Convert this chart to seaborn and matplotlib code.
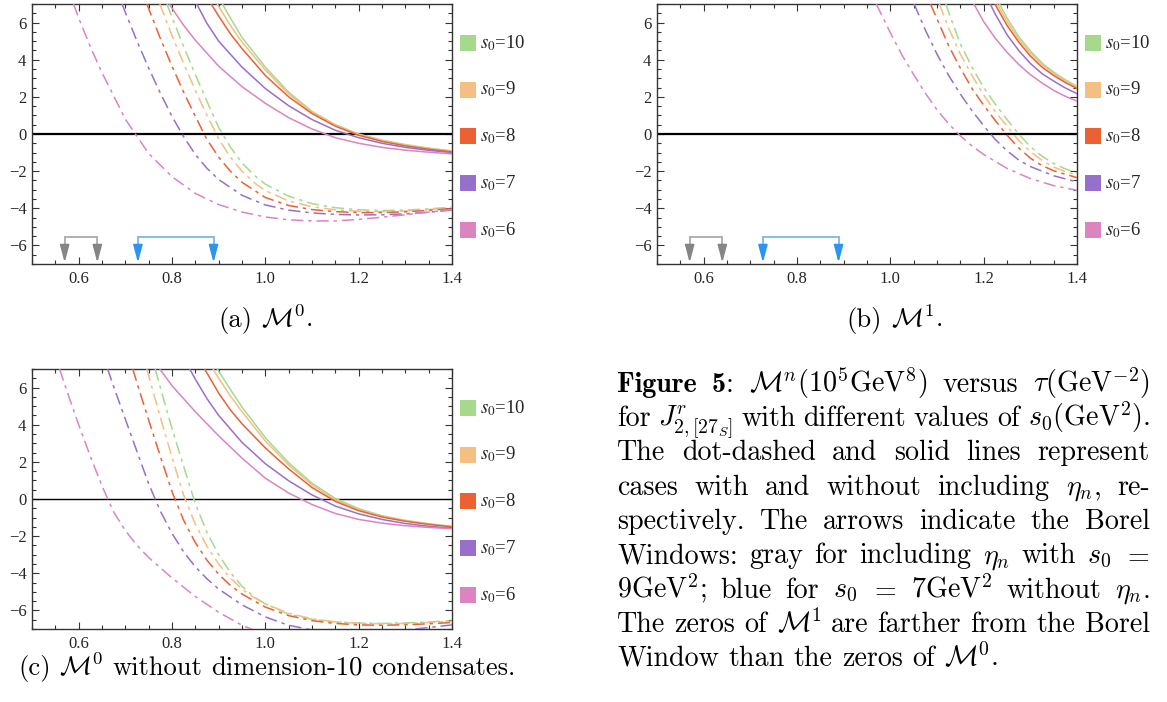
import matplotlib
matplotlib.use("Agg")
import matplotlib.pyplot as plt
import seaborn as sns
from matplotlib.patches import Rectangle
from matplotlib.ticker import MultipleLocator

# ------------------------------------------------------------------ data
S0_LEVELS = [10, 9, 8, 7, 6]
S0_LABELS = [r"$s_0$=10", r"$s_0$=9", r"$s_0$=8", r"$s_0$=7", r"$s_0$=6"]
S0_COLORS = ["#a6d98c", "#f3bf83", "#eb6134", "#9670cb", "#dc84c0"]

XTICKS = [0.6, 0.8, 1.0, 1.2, 1.4]
XTICK_LABELS = ["0.6", "0.8", "1.0", "1.2", "1.4"]
YTICKS = [-6, -4, -2, 0, 2, 4, 6]
YTICK_LABELS = ["\u22126", "\u22124", "\u22122", "0", "2", "4", "6"]

# Borel windows (tau, GeV^-2)
GRAY_WINDOW = [0.570, 0.640]
BLUE_WINDOW = [0.727, 0.889]

# ---- (a) M^0, solid (without eta_n)
a_sol_t_10 = [0.908, 0.925, 0.95, 1.0, 1.05, 1.1, 1.15, 1.2, 1.25, 1.3, 1.35, 1.4]
a_sol_m_10 = [7.0, 6.25, 5.2, 3.6, 2.25, 1.22, 0.5, 0.0, -0.33, -0.57, -0.76, -0.91]
a_sol_t_9 = [0.897, 0.925, 0.95, 1.0, 1.05, 1.1, 1.15, 1.2, 1.25, 1.3, 1.35, 1.4]
a_sol_m_9 = [7.0, 5.85, 4.95, 3.45, 2.15, 1.18, 0.47, -0.03, -0.36, -0.6, -0.78, -0.93]
a_sol_t_8 = [0.884, 0.9, 0.925, 0.95, 1.0, 1.05, 1.1, 1.15, 1.2, 1.25, 1.3, 1.35, 1.4]
a_sol_m_8 = [7.0, 6.35, 5.4, 4.6, 3.15, 2.0, 1.1, 0.42, -0.07, -0.4, -0.64, -0.82, -0.96]
a_sol_t_7 = [0.853, 0.875, 0.9, 0.95, 1.0, 1.05, 1.1, 1.15, 1.2, 1.25, 1.3, 1.35, 1.4]
a_sol_m_7 = [7.0, 5.95, 5.0, 3.6, 2.45, 1.52, 0.78, 0.2, -0.2, -0.5, -0.72, -0.88, -1.0]
a_sol_t_6 = [0.794, 0.825, 0.85, 0.9, 0.95, 1.0, 1.05, 1.1, 1.15, 1.2, 1.25, 1.3, 1.35, 1.4]
a_sol_m_6 = [7.0, 5.85, 5.05, 3.65, 2.55, 1.65, 0.88, 0.27, -0.2, -0.5, -0.72, -0.87, -0.98, -1.07]

# ---- (a) M^0, dot-dashed (with eta_n)
a_dd_t_10 = [0.789, 0.8, 0.825, 0.85, 0.875, 0.9, 0.925, 0.95, 0.975, 1.0, 1.05, 1.1, 1.15, 1.2, 1.25, 1.3, 1.35, 1.4]
a_dd_m_10 = [7.0, 6.3, 4.7, 3.2, 1.75, 0.35, -0.7, -1.55, -2.2, -2.7, -3.35, -3.75, -3.97, -4.08, -4.12, -4.1, -4.03, -3.94]
a_dd_t_9 = [0.774, 0.8, 0.825, 0.85, 0.875, 0.9, 0.925, 0.95, 0.975, 1.0, 1.05, 1.1, 1.15, 1.2, 1.25, 1.3, 1.35, 1.4]
a_dd_m_9 = [7.0, 5.3, 3.8, 2.35, 1.0, -0.25, -1.25, -2.0, -2.6, -3.05, -3.6, -3.92, -4.08, -4.16, -4.18, -4.15, -4.07, -3.97]
a_dd_t_8 = [0.746, 0.75, 0.775, 0.8, 0.825, 0.85, 0.875, 0.9, 0.925, 0.95, 1.0, 1.05, 1.1, 1.15, 1.2, 1.25, 1.3, 1.35, 1.4]
a_dd_m_8 = [7.0, 6.75, 5.15, 3.65, 2.25, 0.95, -0.3, -1.25, -2.0, -2.6, -3.42, -3.85, -4.07, -4.18, -4.23, -4.23, -4.19, -4.11, -4.02]
a_dd_t_7 = [0.693, 0.7, 0.725, 0.75, 0.775, 0.8, 0.825, 0.85, 0.875, 0.9, 0.95, 1.0, 1.05, 1.1, 1.15, 1.2, 1.25, 1.3, 1.35, 1.4]
a_dd_m_7 = [7.0, 6.55, 5.0, 3.55, 2.2, 0.95, -0.15, -1.1, -1.85, -2.45, -3.3, -3.82, -4.1, -4.25, -4.33, -4.36, -4.35, -4.3, -4.21, -4.1]
a_dd_t_6 = [0.589, 0.6, 0.625, 0.65, 0.675, 0.7, 0.75, 0.8, 0.85, 0.9, 0.95, 1.0, 1.05, 1.1, 1.15, 1.2, 1.25, 1.3, 1.35, 1.4]
a_dd_m_6 = [7.0, 6.25, 4.7, 3.3, 2.05, 0.8, -1.05, -2.3, -3.2, -3.8, -4.2, -4.47, -4.62, -4.68, -4.68, -4.6, -4.48, -4.35, -4.21, -4.07]

# ---- (b) M^1, solid
b_sol_t_10 = [1.234, 1.25, 1.275, 1.3, 1.325, 1.35, 1.375, 1.4]
b_sol_m_10 = [7.0, 6.25, 5.25, 4.47, 3.82, 3.33, 2.92, 2.56]
b_sol_t_9 = [1.229, 1.25, 1.275, 1.3, 1.325, 1.35, 1.375, 1.4]
b_sol_m_9 = [7.0, 6.05, 5.1, 4.35, 3.72, 3.25, 2.85, 2.5]
b_sol_t_8 = [1.224, 1.25, 1.275, 1.3, 1.325, 1.35, 1.375, 1.4]
b_sol_m_8 = [7.0, 5.85, 4.95, 4.2, 3.6, 3.15, 2.77, 2.45]
b_sol_t_7 = [1.214, 1.225, 1.25, 1.275, 1.3, 1.325, 1.35, 1.375, 1.4]
b_sol_m_7 = [7.0, 6.45, 5.35, 4.5, 3.8, 3.25, 2.85, 2.48, 2.17]
b_sol_t_6 = [1.179, 1.2, 1.225, 1.25, 1.275, 1.3, 1.325, 1.35, 1.375, 1.4]
b_sol_m_6 = [7.0, 6.05, 5.15, 4.4, 3.75, 3.2, 2.75, 2.35, 2.03, 1.77]

# ---- (b) M^1, dot-dashed
b_dd_t_10 = [1.119, 1.125, 1.15, 1.175, 1.2, 1.225, 1.25, 1.275, 1.3, 1.325, 1.35, 1.375, 1.4]
b_dd_m_10 = [7.0, 6.55, 4.85, 3.6, 2.5, 1.6, 0.78, 0.0, -0.68, -1.2, -1.58, -1.88, -2.1]
b_dd_t_9 = [1.105, 1.125, 1.15, 1.175, 1.2, 1.225, 1.25, 1.275, 1.3, 1.325, 1.35, 1.375, 1.4]
b_dd_m_9 = [7.0, 5.7, 4.3, 3.15, 2.1, 1.2, 0.42, -0.35, -0.95, -1.42, -1.78, -2.03, -2.22]
b_dd_t_8 = [1.086, 1.1, 1.125, 1.15, 1.175, 1.2, 1.225, 1.25, 1.275, 1.3, 1.325, 1.35, 1.4]
b_dd_m_8 = [7.0, 6.2, 4.75, 3.55, 2.45, 1.55, 0.72, -0.06, -0.75, -1.3, -1.7, -1.98, -2.35]
b_dd_t_7 = [1.051, 1.075, 1.1, 1.125, 1.15, 1.175, 1.2, 1.225, 1.25, 1.275, 1.3, 1.35, 1.4]
b_dd_m_7 = [7.0, 5.6, 4.3, 3.15, 2.15, 1.25, 0.45, -0.3, -0.9, -1.4, -1.75, -2.25, -2.58]
b_dd_t_6 = [0.97, 1.0, 1.025, 1.05, 1.075, 1.1, 1.125, 1.15, 1.175, 1.2, 1.25, 1.3, 1.35, 1.4]
b_dd_m_6 = [7.0, 5.45, 4.25, 3.2, 2.2, 1.3, 0.55, -0.1, -0.65, -1.1, -1.85, -2.4, -2.78, -3.03]

# ---- (c) M^0 without dimension-10 condensates, solid
c_sol_t_10 = [0.897, 0.925, 0.95, 1.0, 1.05, 1.1, 1.15, 1.2, 1.25, 1.3, 1.35, 1.4]
c_sol_m_10 = [7.0, 5.9, 4.95, 3.3, 1.95, 0.85, 0.03, -0.52, -0.9, -1.15, -1.33, -1.47]
c_sol_t_9 = [0.888, 0.9, 0.925, 0.95, 1.0, 1.05, 1.1, 1.15, 1.2, 1.25, 1.3, 1.35, 1.4]
c_sol_m_9 = [7.0, 6.5, 5.55, 4.7, 3.12, 1.83, 0.76, -0.05, -0.58, -0.93, -1.17, -1.35, -1.49]
c_sol_t_8 = [0.87, 0.9, 0.925, 0.95, 1.0, 1.05, 1.1, 1.15, 1.2, 1.25, 1.3, 1.35, 1.4]
c_sol_m_8 = [7.0, 5.7, 4.8, 4.05, 2.75, 1.62, 0.62, -0.13, -0.63, -0.97, -1.2, -1.37, -1.5]
c_sol_t_7 = [0.838, 0.85, 0.875, 0.9, 0.95, 1.0, 1.05, 1.1, 1.15, 1.2, 1.25, 1.3, 1.35, 1.4]
c_sol_m_7 = [7.0, 6.45, 5.4, 4.5, 3.05, 1.9, 0.98, 0.22, -0.38, -0.8, -1.1, -1.32, -1.47, -1.57]
c_sol_t_6 = [0.774, 0.8, 0.85, 0.9, 0.95, 1.0, 1.05, 1.1, 1.15, 1.2, 1.25, 1.3, 1.35, 1.4]
c_sol_m_6 = [7.0, 6.1, 4.7, 3.4, 2.2, 1.12, 0.32, -0.3, -0.78, -1.1, -1.3, -1.44, -1.53, -1.6]

# ---- (c) dot-dashed
c_dd_t_10 = [0.764, 0.775, 0.8, 0.825, 0.85, 0.875, 0.9, 0.925, 0.95, 0.975, 1.0, 1.05, 1.1, 1.15, 1.2, 1.25, 1.3, 1.35, 1.4]
c_dd_m_10 = [7.0, 6.0, 3.8, 1.75, -0.25, -1.8, -3.0, -3.95, -4.7, -5.25, -5.65, -6.2, -6.48, -6.62, -6.68, -6.7, -6.67, -6.62, -6.55]
c_dd_t_9 = [0.746, 0.75, 0.775, 0.8, 0.825, 0.85, 0.875, 0.9, 0.925, 0.95, 0.975, 1.0, 1.05, 1.1, 1.15, 1.2, 1.25, 1.3, 1.35, 1.4]
c_dd_m_9 = [7.0, 6.64, 4.4, 2.25, 0.2, -1.35, -2.55, -3.5, -4.25, -4.85, -5.3, -5.65, -6.15, -6.45, -6.62, -6.7, -6.72, -6.7, -6.65, -6.58]
c_dd_t_8 = [0.716, 0.725, 0.75, 0.775, 0.8, 0.825, 0.85, 0.875, 0.9, 0.925, 0.95, 1.0, 1.05, 1.1, 1.15, 1.2, 1.25, 1.3, 1.35, 1.4]
c_dd_m_8 = [7.0, 6.25, 4.25, 2.3, 0.4, -1.15, -2.35, -3.3, -4.05, -4.65, -5.12, -5.82, -6.28, -6.55, -6.7, -6.78, -6.8, -6.77, -6.72, -6.65]
c_dd_t_7 = [0.662, 0.675, 0.7, 0.725, 0.75, 0.775, 0.8, 0.825, 0.85, 0.875, 0.9, 0.95, 1.0, 1.05, 1.1, 1.15, 1.2, 1.25, 1.3, 1.35, 1.4]
c_dd_m_7 = [7.0, 6.05, 4.3, 2.55, 0.82, -0.65, -1.85, -2.85, -3.65, -4.3, -4.85, -5.7, -6.35, -6.8, -7.05, -7.18, -7.2, -7.15, -7.05, -6.92, -6.78]
c_dd_t_6 = [0.559, 0.575, 0.6, 0.625, 0.65, 0.675, 0.7, 0.725, 0.75, 0.8, 0.85, 0.9, 0.95, 1.0, 1.05, 1.1, 1.15, 1.2, 1.25, 1.3, 1.35, 1.4]
c_dd_m_6 = [7.0, 5.8, 4.0, 2.3, 0.7, -0.7, -1.7, -2.5, -3.15, -4.25, -5.25, -6.1, -6.8, -7.3, -7.6, -7.75, -7.8, -7.75, -7.65, -7.5, -7.35, -7.2]

PANEL_A = {
    "solid": [(a_sol_t_10, a_sol_m_10), (a_sol_t_9, a_sol_m_9), (a_sol_t_8, a_sol_m_8),
              (a_sol_t_7, a_sol_m_7), (a_sol_t_6, a_sol_m_6)],
    "dd": [(a_dd_t_10, a_dd_m_10), (a_dd_t_9, a_dd_m_9), (a_dd_t_8, a_dd_m_8),
           (a_dd_t_7, a_dd_m_7), (a_dd_t_6, a_dd_m_6)],
}
PANEL_B = {
    "solid": [(b_sol_t_10, b_sol_m_10), (b_sol_t_9, b_sol_m_9), (b_sol_t_8, b_sol_m_8),
              (b_sol_t_7, b_sol_m_7), (b_sol_t_6, b_sol_m_6)],
    "dd": [(b_dd_t_10, b_dd_m_10), (b_dd_t_9, b_dd_m_9), (b_dd_t_8, b_dd_m_8),
           (b_dd_t_7, b_dd_m_7), (b_dd_t_6, b_dd_m_6)],
}
PANEL_C = {
    "solid": [(c_sol_t_10, c_sol_m_10), (c_sol_t_9, c_sol_m_9), (c_sol_t_8, c_sol_m_8),
              (c_sol_t_7, c_sol_m_7), (c_sol_t_6, c_sol_m_6)],
    "dd": [(c_dd_t_10, c_dd_m_10), (c_dd_t_9, c_dd_m_9), (c_dd_t_8, c_dd_m_8),
           (c_dd_t_7, c_dd_m_7), (c_dd_t_6, c_dd_m_6)],
}

# ------------------------------------------------------------------ style
sns.set_style("ticks")
plt.rcParams["mathtext.fontset"] = "cm"
plt.rcParams["axes.edgecolor"] = "#333333"
plt.rcParams["axes.linewidth"] = 1.0

W, H = 1167, 702
fig = plt.figure(figsize=(W / 100, H / 100), dpi=100)


def px_rect(left, top, width, height):
    return [left / W, 1 - (top + height) / H, width / W, height / H]


ax_a = fig.add_axes(px_rect(32, 4, 420, 260))
ax_b = fig.add_axes(px_rect(657, 4, 420, 260))
ax_c = fig.add_axes(px_rect(32, 369, 420, 260))

DD_STYLE = (0, (8, 3.2, 2.2, 3.2))
TICK_FONT = "Liberation Serif"


def style_axes(ax, zero_lw):
    ax.set_xlim(0.5, 1.4)
    ax.set_ylim(-7, 7)
    ax.set_xticks(XTICKS)
    ax.set_xticklabels(XTICK_LABELS, family=TICK_FONT, size=12)
    ax.set_yticks(YTICKS)
    ax.set_yticklabels(YTICK_LABELS, family=TICK_FONT, size=12)
    ax.xaxis.set_minor_locator(MultipleLocator(0.05))
    ax.yaxis.set_minor_locator(MultipleLocator(0.5))
    ax.tick_params(which="both", direction="in", top=True, right=True,
                   color="#333333", width=0.8)
    ax.tick_params(which="major", length=5)
    ax.tick_params(which="minor", length=3)
    ax.tick_params(axis="x", pad=5)
    ax.tick_params(axis="y", pad=4)
    ax.set_xlabel("")
    ax.set_ylabel("")
    ax.axhline(0, color="black", lw=zero_lw, zorder=1)


def draw_panel(ax, panel):
    for (t, m), col in zip(panel["dd"], S0_COLORS):
        sns.lineplot(x=t, y=m, ax=ax, color=col, lw=1.1, linestyle=DD_STYLE, zorder=3)
    for (t, m), col in zip(panel["solid"], S0_COLORS):
        sns.lineplot(x=t, y=m, ax=ax, color=col, lw=1.1, zorder=4)


def draw_legend(ax):
    # swatch column just right of the frame
    for i, (lab, col) in enumerate(zip(S0_LABELS, S0_COLORS)):
        yc = 42.7 + 46.8 * i
        ya = (264 - yc) / 260
        ax.add_patch(Rectangle(((460 - 32) / 420, ya - 8 / 260), 16 / 420, 16 / 260,
                               transform=ax.transAxes, clip_on=False,
                               facecolor=col, edgecolor="none"))
        ax.text((480 - 32) / 420, ya, lab, transform=ax.transAxes, va="center", ha="left",
                family=TICK_FONT, math_fontfamily="stix", size=13.5)


def draw_windows(ax):
    ybar, ytip = -5.57, -6.93
    for win, lcol, hcol in [(GRAY_WINDOW, "#ababab", "#858585"),
                            (BLUE_WINDOW, "#79b8f2", "#2b95f0")]:
        ax.plot(win, [ybar, ybar], color=lcol, lw=1.3, solid_capstyle="projecting", zorder=5)
        for x in win:
            ax.plot([x, x], [ybar, -6.2], color=lcol, lw=1.3, zorder=5)
            ax.annotate("", xy=(x, ytip), xytext=(x, -6.1),
                        arrowprops=dict(arrowstyle="-|>,head_length=0.75,head_width=0.2",
                                        color=hcol, lw=1.3, shrinkA=0, shrinkB=0,
                                        mutation_scale=14),
                        zorder=6)


for ax, panel, zlw in [(ax_a, PANEL_A, 1.6), (ax_b, PANEL_B, 1.6), (ax_c, PANEL_C, 1.0)]:
    draw_panel(ax, panel)
    style_axes(ax, zlw)
    draw_legend(ax)
draw_windows(ax_a)
draw_windows(ax_b)

# ------------------------------------------------------------------ captions
renderer = fig.canvas.get_renderer()
R, B = "cmr10", "cmb10"


def piece_width(s, fam, size):
    t = fig.text(0, 0, s, family=fam, size=size, math_fontfamily="cm")
    w = t.get_window_extent(renderer).width
    t.remove()
    return w


def space_px(size):
    return size * 100 / 72 * 0.3333


def natural_width(words, size):
    return sum(piece_width(s, f, size) for word in words for s, f in word) + \
        (len(words) - 1) * space_px(size)


def place_words(words, x_px, base_px, size, width=None, center=False):
    widths = [[piece_width(s, f, size) for s, f in word] for word in words]
    totals = [sum(w) for w in widths]
    if width is not None and len(words) > 1:
        gap = (width - sum(totals)) / (len(words) - 1)
    else:
        gap = space_px(size)
    full = sum(totals) + gap * (len(words) - 1)
    x = x_px - full / 2 if center else x_px
    for word, ws in zip(words, widths):
        for (s, f), w in zip(word, ws):
            fig.text(x / W, 1 - base_px / H, s, family=f, size=size, math_fontfamily="cm",
                     ha="left", va="baseline", color="black")
            x += w
        x += gap
    return full


def simple(text):
    return [[(w, R)] for w in text.split(" ")]


lines = [
    [[("Figure", B)], [("5", B), (":", R)], [(r"$\mathcal{M}^n$(10$^5$GeV$^8$)", R)],
     [("versus", R)], [(r"$\tau$(GeV$^{-2}$)", R)]],
    simple(r"for $J^r_{2,[27_S]}$ with different values of $s_0$(GeV$^2$)."),
    simple("The dot-dashed and solid lines represent"),
    simple(r"cases with and without including $\eta_n$, re-"),
    simple("spectively. The arrows indicate the Borel"),
    simple(r"Windows: gray for including $\eta_n$ with $s_0$ $=$"),
    simple(r"9GeV$^2$; blue for $s_0$ $=$ 7GeV$^2$ without $\eta_n$."),
    simple(r"The zeros of $\mathcal{M}^1$ are farther from the Borel"),
    simple(r"Window than the zeros of $\mathcal{M}^0$."),
]

# caption size fitted to the width of the last (unjustified) caption line in the reference
CAP_SIZE = 10 * 383 / natural_width(lines[-1], 10)

# sub-caption size: in the reference "(c) M0 without dimension-10 conde" spans 18..440 px
sub_prefix = simple(r"(c) $\mathcal{M}^0$ without dimension-10")
SUB_SIZE = 10 * 422 / (natural_width(sub_prefix, 10) + space_px(10) + piece_width("conde", R, 10))

place_words(simple(r"(a) $\mathcal{M}^0$."), 265, 327, SUB_SIZE, center=True)
place_words(simple(r"(b) $\mathcal{M}^1$."), 894, 327, SUB_SIZE, center=True)
place_words(simple(r"(c) $\mathcal{M}^0$ without dimension-10 condensates."), 18, 675, SUB_SIZE)

for i, words in enumerate(lines):
    base = 392 + 34.25 * i
    last = i == len(lines) - 1
    place_words(words, 617, base, CAP_SIZE, width=None if last else 1150 - 617)

fig.savefig("out.png", dpi=100)
